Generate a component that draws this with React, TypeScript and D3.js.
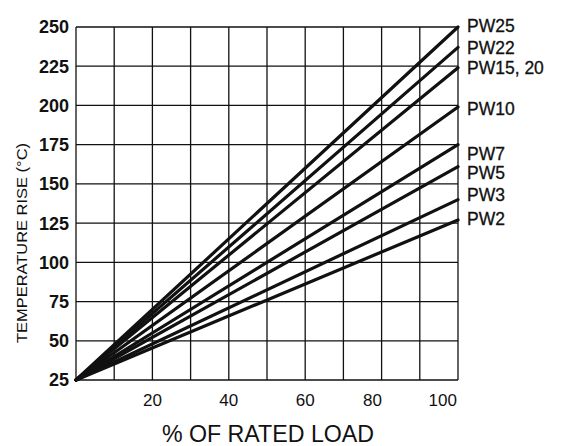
import React from "react";
import * as d3 from "d3";

const series = ["PW25", "PW22", "PW15, 20", "PW10", "PW7", "PW5", "PW3", "PW2"];
const startLoad = 0;
const startRise = 25;
const endLoad = 100;
const endRise = [250, 237, 224, 199, 175, 161, 140, 127];
const labelRise = [251, 237, 224, 198, 169, 157, 143, 128];
const xTicks = [20, 40, 60, 80, 100];
const xTickLabelAt = [20, 40, 60, 77.6, 96];
const xGrid = d3.range(0, 101, 10);
const yTicks = [25, 50, 75, 100, 125, 150, 175, 200, 225, 250];

const W = 561;
const H = 446;
const m = { left: 76, right: 103, top: 27, bottom: 66 };

export default function App() {
  const x = d3.scaleLinear().domain([0, 100]).range([m.left, W - m.right]);
  const y = d3.scaleLinear().domain([25, 250]).range([H - m.bottom, m.top]);
  const line = d3
    .line<[number, number]>()
    .x((d) => x(d[0]))
    .y((d) => y(d[1]));
  const font = "'Liberation Sans', Arial, Helvetica, sans-serif";
  return (
    <svg
      width={W}
      height={H}
      style={{ position: "absolute", left: 0, top: 0, background: "#fff" }}
      fontFamily={font}
    >
      <g stroke="#111" strokeWidth={1.3} fill="none">
        {xGrid.map((v) => (
          <line key={"gx" + v} x1={x(v)} x2={x(v)} y1={y(25)} y2={y(250)} />
        ))}
        {yTicks.map((v) => (
          <line key={"gy" + v} x1={x(0)} x2={x(100)} y1={y(v)} y2={y(v)} />
        ))}
      </g>
      <g stroke="#111" strokeWidth={3.2} fill="none" strokeLinecap="round">
        {series.map((s, i) => (
          <path
            key={s}
            d={line([
              [startLoad, startRise],
              [endLoad, endRise[i]],
            ]) || ""}
          />
        ))}
      </g>
      <g fill="#111" fontSize={18} fontWeight="bold" textAnchor="end">
        {yTicks.map((v) => (
          <text key={"ty" + v} x={x(0) - 7} y={y(v)} dy="0.36em">
            {v}
          </text>
        ))}
      </g>
      <g fill="#111" fontSize={17} textAnchor="middle">
        {xTicks.map((v, i) => (
          <text key={"tx" + v} x={x(xTickLabelAt[i])} y={y(25) + 26}>
            {v}
          </text>
        ))}
      </g>
      <g fill="#111" fontSize={17.5} stroke="#111" strokeWidth={0.3}>
        {series.map((s, i) => (
          <text key={"l" + s} x={x(100) + 9} y={y(labelRise[i])} dy="0.36em">
            {s}
          </text>
        ))}
      </g>
      <text
        x={268}
        y={442}
        fontSize={23.2}
        textAnchor="middle"
        fill="#111"
      >
        % OF RATED LOAD
      </text>
      <text
        transform="translate(27,243) rotate(-90)"
        fontSize={14.5}
        textAnchor="middle"
        fill="#111"
        textLength={200}
        lengthAdjust="spacingAndGlyphs"
      >
        TEMPERATURE RISE  (°C)
      </text>
    </svg>
  );
}
